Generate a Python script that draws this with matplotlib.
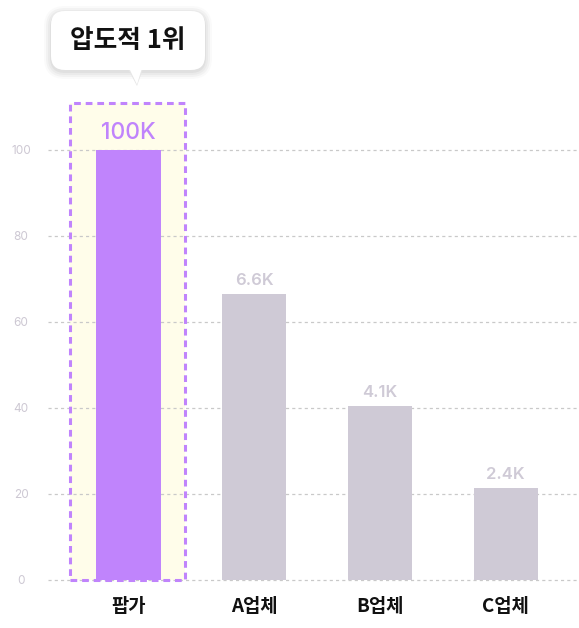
import numpy as np
import matplotlib.pyplot as plt
from matplotlib.patches import Rectangle, FancyBboxPatch, Polygon

plt.rcParams['font.family'] = ['Noto Sans CJK KR', 'DejaVu Sans']

categories = ['팝가', 'A업체', 'B업체', 'C업체']
values = [100, 66.5, 40.5, 21.5]
value_labels = ['100K', '6.6K', '4.1K', '2.4K']
yticks = [0, 20, 40, 60, 80, 100]
badge_text = '압도적 1위'

PURPLE = '#c084fc'
GREY = '#cfcad6'
TICK_GREY = '#cdc8d3'
NUM_FONT = ['Inter', 'Noto Sans CJK KR']

W, H = 579, 628
fig = plt.figure(figsize=(W / 100, H / 100), dpi=100)

# 축: 좌측 48px ~ 우측 끝, 세로는 전체
ax = fig.add_axes([48 / W, 0, 1 - 48 / W, 1])
px_per_unit = 4.3
ax.set_ylim((580 - H) / px_per_unit, 580 / px_per_unit)
ax.set_xlim((48 - 128.5) / 125.7, (579 - 128.5) / 125.7)

x = np.arange(len(categories))

# 1위 강조 박스
ax.add_patch(Rectangle((-0.465, 0), 0.918, 110.9, facecolor='#fffdea',
                       edgecolor='none', zorder=1))
ax.add_patch(Rectangle((-0.465, 0), 0.918, 110.9, facecolor='none',
                       edgecolor=PURPLE, lw=2.2, linestyle=(0, (2.2, 1.6)), zorder=4))

for yt in yticks:
    ax.axhline(yt, color='#c9c9c9', lw=0.9, linestyle=(0, (2.5, 2.5)), zorder=2)

colors = [PURPLE] + [GREY] * (len(categories) - 1)
bars = ax.bar(x, values, width=0.51, color=colors, zorder=3)

for i, (b, lab) in enumerate(zip(bars, value_labels)):
    if i == 0:
        ax.text(b.get_x() + b.get_width() / 2, b.get_height() + 1.5, lab,
                ha='center', va='bottom', fontsize=16.5, color=PURPLE,
                fontweight='medium', family=NUM_FONT, zorder=5)
    else:
        ax.text(b.get_x() + b.get_width() / 2, b.get_height() + 1.3, lab,
                ha='center', va='bottom', fontsize=12, color=GREY,
                fontweight='semibold', family=NUM_FONT, zorder=5)

for xi, cat in zip(x, categories):
    ax.text(xi, (580 - 607) / px_per_unit, cat, ha='center', va='center',
            fontsize=13.5, fontweight='bold', color='#111111')

ax.set_yticks(yticks)
ax.set_yticklabels([str(t) for t in yticks], fontsize=8.5, color=TICK_GREY,
                   family=NUM_FONT)
ax.tick_params(axis='y', length=0, pad=19.4)
for lab in ax.get_yticklabels():
    lab.set_horizontalalignment('center')
ax.set_xticks([])
for s in ax.spines.values():
    s.set_visible(False)
ax.patch.set_alpha(0)

# 툴팁 (픽셀 좌표 오버레이)
ov = fig.add_axes([0, 0, 1, 1], zorder=10)
ov.set_xlim(0, W)
ov.set_ylim(H, 0)
ov.axis('off')
ov.patch.set_alpha(0)
for k, a in [(7, 0.02), (5, 0.03), (3, 0.03), (1, 0.04)]:
    ov.add_patch(FancyBboxPatch((51 - k, 11 - k + 2), 154 + 2 * k, 59 + 2 * k,
                                boxstyle='round,pad=0,rounding_size=%d' % (14 + k),
                                facecolor='black', edgecolor='none', alpha=a))
ov.add_patch(Polygon([[128, 69], [143, 69], [137, 86]], closed=True,
                     facecolor='#e6e6e6', edgecolor='none'))
ov.add_patch(FancyBboxPatch((51, 11), 154, 59, boxstyle='round,pad=0,rounding_size=14',
                            facecolor='white', edgecolor='none'))
ov.add_patch(Polygon([[129, 68], [142, 68], [137, 84.5]], closed=True,
                     facecolor='white', edgecolor='none'))
ov.text(128, 41, badge_text, ha='center', va='center', fontsize=18.5,
        fontweight='bold', color='#111111')

fig.savefig('out.png', dpi=100)
